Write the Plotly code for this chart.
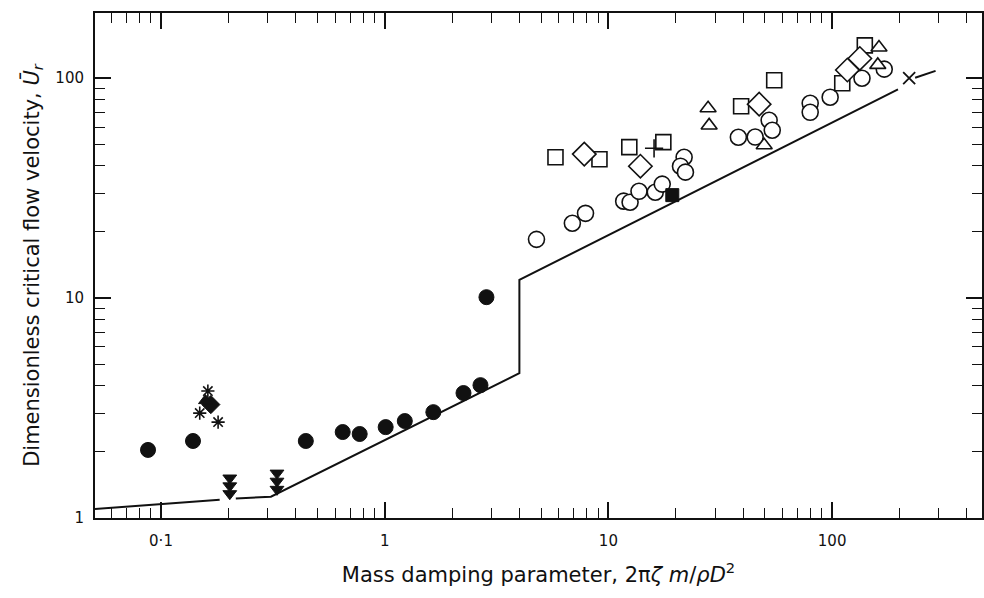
import plotly.graph_objects as go
import numpy as np

# ---- data ----
# theory / design line (None = break)
line_x = [0.0507, 0.183, None, 0.216, 0.31, 4.0, 4.0, 197, None, 235, 290]
line_y = [1.10, 1.21, None, 1.225, 1.25, 4.56, 12.1, 89, None, 100.5, 108]

filled_circle_x = [0.0875, 0.139, 0.444, 0.649, 0.773, 1.01, 1.23, 1.65, 2.25, 2.68, 2.85]
filled_circle_y = [2.04, 2.24, 2.24, 2.46, 2.41, 2.59, 2.76, 3.03, 3.70, 4.02, 10.1]

open_circle_x = [4.77, 6.9, 7.9, 11.7, 12.5, 13.7, 16.2, 17.4, 21.8, 21.0, 22.1,
                 38.1, 45.3, 52.3, 54.0, 79.8, 79.8, 98.0, 136, 171]
open_circle_y = [18.5, 21.9, 24.3, 27.6, 27.3, 30.6, 30.3, 33.0, 43.7, 39.8, 37.4,
                 53.9, 54.0, 64.4, 58.0, 76.9, 70.0, 82.0, 100, 110]

open_square_x = [5.8, 9.12, 12.4, 17.6, 39.2, 55.1, 111, 140]
open_square_y = [43.7, 42.8, 48.6, 51.2, 74.6, 97.9, 94.9, 141]

open_diamond_x = [7.8, 13.9, 47.2, 117, 133]
open_diamond_y = [45.2, 39.8, 76.2, 109, 123]

open_triangle_x = [27.9, 28.2, 49.7, 162, 160]
open_triangle_y = [73.0, 61.0, 49.6, 138, 115]

plus_x = [16.0]
plus_y = [48.0]

filled_square_x = [19.3]
filled_square_y = [29.4]

cross_x = [221]
cross_y = [100]

asterisk_x = [0.162, 0.149, 0.180]
asterisk_y = [3.78, 3.00, 2.73]

filled_diamond_x = [0.167]
filled_diamond_y = [3.28]
filled_tri_x = [0.158]
filled_tri_y = [3.42]

# stacked downward arrows (upper-bound points)
arrow_x = [0.203, 0.203, 0.203, 0.330, 0.330, 0.330]
arrow_y = [1.52, 1.40, 1.29, 1.60, 1.47, 1.35]

x_tickvals = [0.1, 1, 10, 100]
x_ticktext = ["0\u00b71", "1", "10", "100"]
y_tickvals = [1, 10, 100]
y_ticktext = ["1", "10", "100"]

# ---- figure ----
ink = "#111111"
FONT = "DejaVu Sans"
fig = go.Figure()

fig.add_trace(go.Scatter(x=line_x, y=line_y, mode="lines",
                         line=dict(color=ink, width=2), connectgaps=False,
                         hoverinfo="skip", showlegend=False))

def add_markers(x, y, symbol, size, filled, lw=1.6):
    fig.add_trace(go.Scatter(
        x=x, y=y, mode="markers", showlegend=False,
        marker=dict(symbol=symbol, size=size,
                    color=ink if filled else "white",
                    line=dict(color=ink, width=lw))))

add_markers(open_circle_x, open_circle_y, "circle", 16, False)
add_markers(open_square_x, open_square_y, "square", 15, False)
add_markers(open_diamond_x, open_diamond_y, "diamond", 18, False)
add_markers(open_triangle_x, open_triangle_y, "triangle-up", 14, False)
add_markers(filled_circle_x, filled_circle_y, "circle", 15, True, 1)
add_markers(filled_square_x, filled_square_y, "square", 13, True, 1)
add_markers(filled_diamond_x, filled_diamond_y, "diamond", 14, True, 1)
add_markers(filled_tri_x, filled_tri_y, "triangle-up", 12, True, 1)
add_markers(arrow_x, arrow_y, "triangle-down", 12, True, 1)
add_markers(plus_x, plus_y, "cross-thin", 13, False, 1.6)
add_markers(asterisk_x, asterisk_y, "asterisk", 11, False, 1.6)
add_markers(cross_x, cross_y, "x-thin", 12, False, 1.8)

def minor_vals(lo, hi):
    vals = []
    for d in range(lo, hi):
        for k in range(2, 10):
            vals.append(k * 10 ** d)
    return vals

axis_common = dict(
    type="log", showgrid=False, zeroline=False,
    showline=True, linecolor=ink, linewidth=2, mirror="ticks",
    ticks="inside", ticklen=16, tickwidth=1.6, tickcolor=ink,
    tickfont=dict(family=FONT, size=15, color=ink),
)

fig.update_xaxes(
    **axis_common,
    range=[np.log10(0.0507), 2.67],
    tickvals=x_tickvals, ticktext=x_ticktext,
    minor=dict(tickvals=minor_vals(-2, 3), ticks="inside", ticklen=10,
               tickwidth=1.4, tickcolor=ink),
    ticklabelstandoff=8,
    title=dict(text="Mass damping parameter, 2\u03c0<i>\u03b6 m</i>/<i>\u03c1D</i><sup>2</sup>",
               font=dict(family=FONT, size=21, color=ink), standoff=18),
)
fig.update_yaxes(
    **axis_common,
    range=[0, np.log10(198)],
    tickvals=y_tickvals, ticktext=y_ticktext,
    minor=dict(tickvals=minor_vals(0, 3), ticks="inside", ticklen=10,
               tickwidth=1.4, tickcolor=ink),
    ticklabelstandoff=6,
    title=dict(text="Dimensionless critical flow velocity, <i>\u016a</i><sub><i>r</i></sub>",
               font=dict(family=FONT, size=21, color=ink), standoff=10),
)

fig.update_layout(
    width=984, height=598,
    margin=dict(l=95, r=0, t=13, b=80),
    paper_bgcolor="white", plot_bgcolor="white",
    font=dict(family=FONT, color=ink),
)

fig.write_html("out.html")
